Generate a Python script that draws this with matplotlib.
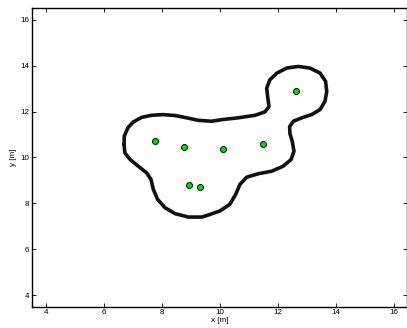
import matplotlib
matplotlib.use("Agg")
import matplotlib.pyplot as plt

# boundary of the region, traced clockwise from the leftmost point
boundary_x = [6.69, 6.70, 6.82, 7.01, 7.30, 7.64, 8.04, 8.45, 8.85, 9.25, 9.71,
              10.06, 10.63, 11.21, 11.55, 11.69, 11.64, 11.61, 11.72, 11.96, 12.30,
              12.70, 13.10, 13.45, 13.64, 13.68, 13.62, 13.45, 13.16, 12.82, 12.53,
              12.40, 12.41, 12.49, 12.55, 12.45, 12.18, 11.78, 11.32, 10.92, 10.69,
              10.54, 10.34, 10.00, 9.60, 9.37, 8.91, 8.45, 8.10, 7.85, 7.70,
              7.62, 7.47, 7.18, 6.90, 6.72, 6.69]
boundary_y = [10.57, 10.93, 11.29, 11.55, 11.75, 11.84, 11.87, 11.83, 11.73, 11.62, 11.58,
              11.65, 11.73, 11.84, 11.99, 12.22, 12.67, 13.03, 13.39, 13.68, 13.90,
              13.97, 13.90, 13.68, 13.32, 12.88, 12.45, 12.09, 11.87, 11.73, 11.58,
              11.35, 11.04, 10.71, 10.27, 9.91, 9.62, 9.40, 9.29, 9.14, 8.83,
              8.39, 7.96, 7.67, 7.49, 7.40, 7.40, 7.55, 7.81, 8.17, 8.61,
              9.04, 9.33, 9.62, 9.91, 10.20, 10.57]

# sensor positions
pts_x = [7.76, 8.75, 10.09, 11.48, 12.63, 8.92, 9.32]
pts_y = [10.71, 10.45, 10.39, 10.59, 12.88, 8.78, 8.71]

xticks = [4, 6, 8, 10, 12, 14, 16]
yticks = [4, 6, 8, 10, 12, 14, 16]

plt.rcParams["font.family"] = ["Liberation Sans", "DejaVu Sans"]

fig = plt.figure(figsize=(4.07, 3.28), dpi=100)
ax = fig.add_axes([32 / 407, 1 - 306.7 / 328, 374.5 / 407, 298.7 / 328])

ax.plot(boundary_x, boundary_y, color="#111111", lw=2.6, solid_joinstyle="round",
        solid_capstyle="round")
ax.plot(pts_x, pts_y, "o", color="#00e000", markeredgecolor="black",
        markeredgewidth=0.7, markersize=4.3)

ax.set_xlim(3.517, 16.43)
ax.set_ylim(3.49, 16.52)
ax.set_xticks(xticks)
ax.set_yticks(yticks)
ax.tick_params(direction="in", length=3, width=0.6, labelsize=5.8, pad=2,
               top=True, right=True)
for s in ax.spines.values():
    s.set_linewidth(1.0)
ax.set_xlabel("x [m]", fontsize=5.8, labelpad=0.5)
ax.set_ylabel("y [m]", fontsize=5.8, labelpad=2)

fig.savefig("out.png", dpi=100)
